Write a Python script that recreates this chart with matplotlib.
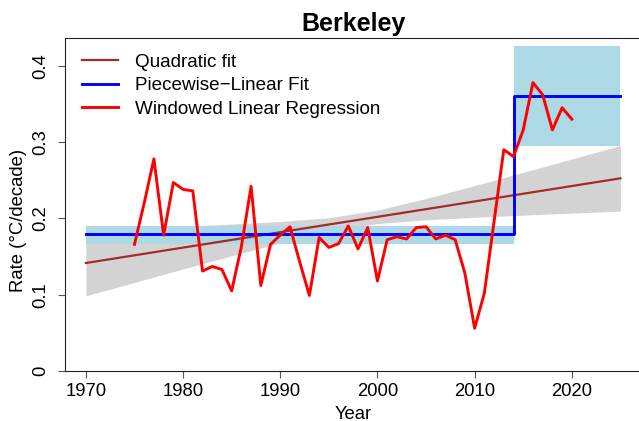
import matplotlib
matplotlib.use("Agg")
import matplotlib.pyplot as plt
from matplotlib.lines import Line2D

plt.rcParams['font.family'] = ['Liberation Sans', 'DejaVu Sans']

# Windowed linear regression (rate, °C/decade)
wlr_years = list(range(1975, 2021))
wlr_rate = [0.166, 0.220, 0.278, 0.178, 0.247, 0.238, 0.236, 0.131, 0.137, 0.133,
            0.105, 0.163, 0.242, 0.112, 0.166, 0.178, 0.189, 0.143, 0.099, 0.175,
            0.162, 0.167, 0.190, 0.160, 0.188, 0.118, 0.172, 0.176, 0.173, 0.188,
            0.189, 0.173, 0.178, 0.172, 0.128, 0.056, 0.102, 0.196, 0.290, 0.281,
            0.316, 0.378, 0.362, 0.316, 0.345, 0.330]

# Quadratic fit (rate) and its confidence band
fit_years = [1970, 1975, 1980, 1985, 1990, 1995, 2000, 2005, 2010, 2015, 2020, 2025]
fit_rate = [0.1415, 0.1516, 0.1617, 0.1718, 0.1819, 0.1920, 0.2020, 0.2121,
            0.2222, 0.2323, 0.2424, 0.2525]
fit_lower = [0.0985, 0.1161, 0.1337, 0.1510, 0.1679, 0.1832, 0.1932, 0.1981,
             0.2014, 0.2043, 0.2069, 0.2095]
fit_upper = [0.1845, 0.1871, 0.1897, 0.1926, 0.1959, 0.2008, 0.2108, 0.2261,
             0.2430, 0.2603, 0.2779, 0.2955]

# Piecewise-linear fit: segments with rate and uncertainty range
pw_start = [1970, 2014]
pw_end = [2014, 2025]
pw_rate = [0.179, 0.361]
pw_low = [0.166, 0.295]
pw_high = [0.190, 0.426]

x_ticks = [1970, 1980, 1990, 2000, 2010, 2020]
y_ticks = [0, 0.1, 0.2, 0.3, 0.4]
y_ticklabels = ["0", "0.1", "0.2", "0.3", "0.4"]

W, H = 639, 421
fig = plt.figure(figsize=(W / 100, H / 100), dpi=100)
left, right, top, bottom = 64.5, 641.8, 38.3, 371.0
ax = fig.add_axes([left / W, 1 - bottom / H, (right - left) / W, (bottom - top) / H])

# confidence band of quadratic fit
ax.fill_between(fit_years, fit_lower, fit_upper, color='#D3D3D3', lw=0, zorder=1)
# piecewise uncertainty rectangles
for s, e, lo, hi in zip(pw_start, pw_end, pw_low, pw_high):
    ax.fill_between([s, e], [lo, lo], [hi, hi], color='#ADD8E6', lw=0, zorder=2)

ax.plot(fit_years, fit_rate, color='#A52A2A', lw=1.6, zorder=3)
# piecewise step line
pw_x, pw_y = [], []
for s, e, r in zip(pw_start, pw_end, pw_rate):
    pw_x += [s, e]
    pw_y += [r, r]
ax.plot(pw_x, pw_y, color='#0000FF', lw=2.1, zorder=4)
ax.plot(wlr_years, wlr_rate, color='#FF0000', lw=2.1, zorder=5)

ax.set_xlim(1967.8, 2027.2)
ax.set_ylim(0, 0.436)
ax.set_xticks(x_ticks)
ax.set_xticklabels([str(v) for v in x_ticks])
ax.set_yticks(y_ticks)
ax.set_yticklabels(y_ticklabels)
for lab in ax.get_yticklabels():
    lab.set_rotation(90)
    lab.set_va('center')
ax.tick_params(axis='both', direction='out', length=5.3, width=0.8, color='#555555',
               labelsize=13.3, labelcolor='black')
ax.tick_params(axis='x', pad=3.0)
ax.tick_params(axis='y', pad=6.0)
for sp in ax.spines.values():
    sp.set_linewidth(0.8)
    sp.set_color('#222222')

ax.set_xlabel('Year', fontsize=13.3, va='baseline', ha='center')
ax.xaxis.set_label_coords(0.5, (bottom - 419) / (bottom - top))
ax.set_ylabel('Rate (°C/decade)', fontsize=13.3, va='center', ha='center')
ax.yaxis.set_label_coords((18 - left) / (right - left), (bottom - 220) / (bottom - top))

ax.set_title('Berkeley', fontsize=18, fontweight='bold', pad=5)

handles = [Line2D([], [], color='#A52A2A', lw=1.6),
           Line2D([], [], color='#0000FF', lw=2.1),
           Line2D([], [], color='#FF0000', lw=2.1)]
labels = ['Quadratic fit', 'Piecewise\u2212Linear Fit', 'Windowed Linear Regression']
ax.legend(handles, labels, loc='upper left', frameon=False, fontsize=13.6,
          bbox_to_anchor=(81.7 / W, 1 - 53.5 / H), bbox_transform=fig.transFigure,
          borderpad=0, borderaxespad=0, handlelength=1.94, handletextpad=0.88,
          labelspacing=0.33)

fig.savefig('out.png', dpi=100)
